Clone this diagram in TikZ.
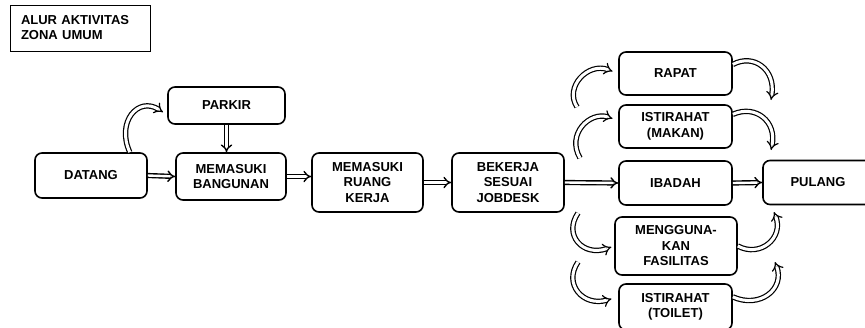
\documentclass[tikz,border=0pt]{standalone}
\usepackage{fontspec}
\setmainfont{Liberation Sans}
\usetikzlibrary{arrows.meta}

\begin{document}
\begin{tikzpicture}[x=1pt,y=1pt,yscale=-1,xscale=1]
  \tikzstyle{box} = [draw, line width=1.6pt, rounded corners=7pt, align=center, inner sep=2pt, font=\bfseries\fontsize{13}{15.5}\selectfont]
  \tikzstyle{arrow} = [line width=1.4pt, double, double distance=2.4pt, -{Implies}]
  \tikzstyle{bentarrow} = [line width=1.2pt, double, double distance=3pt, -{Implies}]
  \useasboundingbox (0,0) rectangle (865,327);
  \clip (0,0) rectangle (865,327);
  %Draw the title box
  \node[draw, line width=1pt, minimum width=140, minimum height=46, text width=118, align=left, font=\bfseries\fontsize{13}{15}\selectfont] (judul) at (80,28) {ALUR AKTIVITAS\\ZONA UMUM};
  %Draw the boxes
  \node[box, minimum width=112, minimum height=45] (datang) at (91,175.5) {DATANG};
  \node[box, minimum width=117, minimum height=37] (parkir) at (226.5,105.5) {PARKIR};
  \node[box, minimum width=110, minimum height=47] (bangunan) at (231,176.5) {MEMASUKI\\BANGUNAN};
  \node[box, minimum width=111, minimum height=59] (ruang) at (367.5,182.5) {MEMASUKI\\RUANG\\KERJA};
  \node[box, minimum width=112, minimum height=59] (jobdesk) at (508,182.5) {BEKERJA\\SESUAI\\JOBDESK};
  \node[box, minimum width=113, minimum height=43] (rapat) at (675.5,73.5) {RAPAT};
  \node[box, minimum width=113, minimum height=43] (makan) at (675.5,126.5) {ISTIRAHAT\\(MAKAN)};
  \node[box, minimum width=113, minimum height=44] (ibadah) at (675.5,183) {IBADAH};
  \node[box, minimum width=110, minimum height=44] (pulang) at (818,182.5) {PULANG};
  \node[box, minimum width=122, minimum height=58] (fasilitas) at (676,246) {MENGGUNA-\\KAN\\FASILITAS};
  \node[box, minimum width=113, minimum height=46] (toilet) at (675.5,307) {ISTIRAHAT\\(TOILET)};
  %Draw the straight arrows
  \draw[arrow] (datang.east) -- (bangunan.west);
  \draw[arrow] (parkir.south) -- (parkir.south |- bangunan.north);
  \draw[arrow] (bangunan.east) -- (ruang.west |- bangunan.east);
  \draw[arrow] (ruang.east) -- (jobdesk.west);
  \draw[arrow] (jobdesk.east) -- (ibadah.west);
  \draw[arrow] (ibadah.east) -- (pulang.west);
  %Free ends of the bent arrows
  \coordinate (rapatA) at (577,107);
  \coordinate (makanA) at (580,158);
  \coordinate (rapatB) at (771,100);
  \coordinate (makanB) at (771,150);
  \coordinate (fasilitasA) at (578,213);
  \coordinate (toiletA) at (578,262);
  \coordinate (fasilitasB) at (774,212);
  \coordinate (toiletB) at (775,262);
  %Draw the bent arrows
  \draw[bentarrow, shorten >=5pt] (datang.31) .. controls (116,122) and (138,96) .. (parkir.189);
  \draw[bentarrow, shorten >=6pt] (rapatA) .. controls (564,87) and (588,62) .. (rapat.west);
  \draw[bentarrow, shorten >=6pt] (makanA) .. controls (566,134) and (590,111) .. (makan.174);
  \draw[bentarrow] (rapat.9) .. controls (754,53) and (776,70) .. (rapatB);
  \draw[bentarrow] (makan.12) .. controls (756,104) and (777,122) .. (makanB);
  \draw[bentarrow, shorten >=3pt] (fasilitasA) .. controls (563,235) and (583,257) .. (fasilitas.west);
  \draw[bentarrow, shorten >=7pt] (toiletA) .. controls (563,284) and (583,307) .. (toilet.170);
  \draw[bentarrow] (fasilitas.east) .. controls (760,258) and (784,238) .. (fasilitasB);
  \draw[bentarrow] (toilet.10) .. controls (760,309) and (785,289) .. (toiletB);
\end{tikzpicture}
\end{document}
